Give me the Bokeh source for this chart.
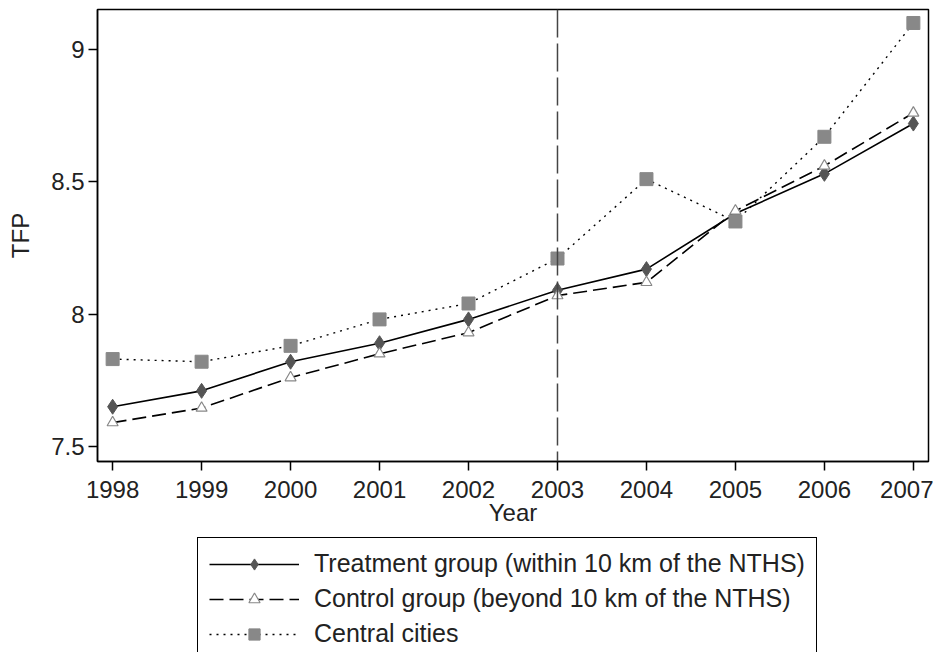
from bokeh.plotting import figure
from bokeh.layouts import column
from bokeh.models import Span, Legend, LegendItem, FixedTicker, Range1d
from bokeh.embed import file_html
from bokeh.resources import INLINE

years = [1998, 1999, 2000, 2001, 2002, 2003, 2004, 2005, 2006, 2007]
treatment = [7.65, 7.71, 7.82, 7.89, 7.98, 8.09, 8.17, 8.38, 8.53, 8.72]
control = [7.59, 7.645, 7.76, 7.85, 7.93, 8.07, 8.12, 8.39, 8.56, 8.76]
central = [7.83, 7.82, 7.88, 7.98, 8.04, 8.21, 8.51, 8.35, 8.67, 9.10]
y_ticks = [7.5, 8, 8.5, 9]
labels = ["Treatment group (within 10 km of the NTHS)",
          "Control group (beyond 10 km of the NTHS)",
          "Central cities"]
series = [treatment, control, central]

FONT = "Liberation Sans"
TXT = "#222222"

# styles
S1 = dict(line=dict(line_color="black", line_width=1.6),
          mark=dict(marker="diamond", size=15, fill_color="#555555",
                    line_color="#555555"))
S2 = dict(line=dict(line_color="black", line_width=1.6, line_dash="14 6"),
          mark=dict(marker="triangle", size=11, fill_color="white",
                    line_color="#888888", line_width=1.2))
S3 = dict(line=dict(line_color="black", line_width=1.4, line_dash="2 5"),
          mark=dict(marker="square", size=13, fill_color="#888888",
                    line_color="#888888"))
STYLES = [S1, S2, S3]

p = figure(width=933, height=532,
           output_backend="svg", toolbar_location=None,
           x_range=Range1d(1997.83, 2007.17), y_range=Range1d(7.443, 9.151),
           min_border_left=97, min_border_top=9, min_border_right=5, min_border_bottom=71)

p.xgrid.visible = False
p.ygrid.visible = False
p.outline_line_color = "black"
p.outline_line_width = 1.5
p.background_fill_color = "white"
p.border_fill_color = "white"

for ax in (p.xaxis[0], p.yaxis[0]):
    ax.axis_line_color = "black"
    ax.axis_line_width = 1.5
    ax.major_tick_line_width = 1.5
    ax.major_tick_out = 9
    ax.major_tick_in = 0
    ax.minor_tick_line_color = None
    ax.major_label_text_font = FONT
    ax.major_label_text_font_size = "24px"
    ax.major_label_text_color = TXT
    ax.axis_label_text_font = FONT
    ax.axis_label_text_font_size = "24px"
    ax.axis_label_text_font_style = "normal"
    ax.axis_label_text_color = TXT

p.xaxis.ticker = FixedTicker(ticks=years)
p.yaxis.ticker = FixedTicker(ticks=y_ticks)
p.xaxis.axis_label = "Year"
p.yaxis.axis_label = "TFP"
p.xaxis.major_label_standoff = 10
p.xaxis.axis_label_standoff = -2
p.yaxis.major_label_standoff = 4
p.yaxis.axis_label_standoff = 14

vline = Span(location=2003, dimension="height", line_color="#444444",
             line_width=1.5, line_dash="28 6")
p.add_layout(vline)

for ys, st in zip(series, STYLES):
    p.line(years, ys, **st["line"])
    p.scatter(years, ys, **st["mark"])

# legend panel below the chart (its own renderers lie outside its view)
q = figure(width=933, height=120, output_backend="svg", toolbar_location=None,
           x_range=Range1d(0, 1), y_range=Range1d(0, 1),
           x_axis_type=None, y_axis_type=None,
           min_border_left=97, min_border_top=0, min_border_right=5, min_border_bottom=0)
q.xgrid.visible = False
q.ygrid.visible = False
q.outline_line_color = None
q.background_fill_color = "white"
q.border_fill_color = "white"

items = []
for lab, ys, st in zip(labels, series, STYLES):
    rl = q.line(years, ys, **st["line"])
    rm = q.scatter(years, ys, **st["mark"])
    items.append(LegendItem(label=lab, renderers=[rl, rm]))

legend = Legend(items=items, location=(100, -8), orientation="vertical",
                label_text_font=FONT, label_text_font_size="25px",
                label_text_color=TXT,
                glyph_width=90, glyph_height=28, label_standoff=15,
                spacing=6, padding=11, margin=0,
                border_line_color="black", border_line_width=1.5,
                border_line_alpha=1.0,
                background_fill_alpha=1.0)
q.add_layout(legend, "center")

open("out.html", "w").write(file_html(column(p, q, spacing=0), INLINE))
